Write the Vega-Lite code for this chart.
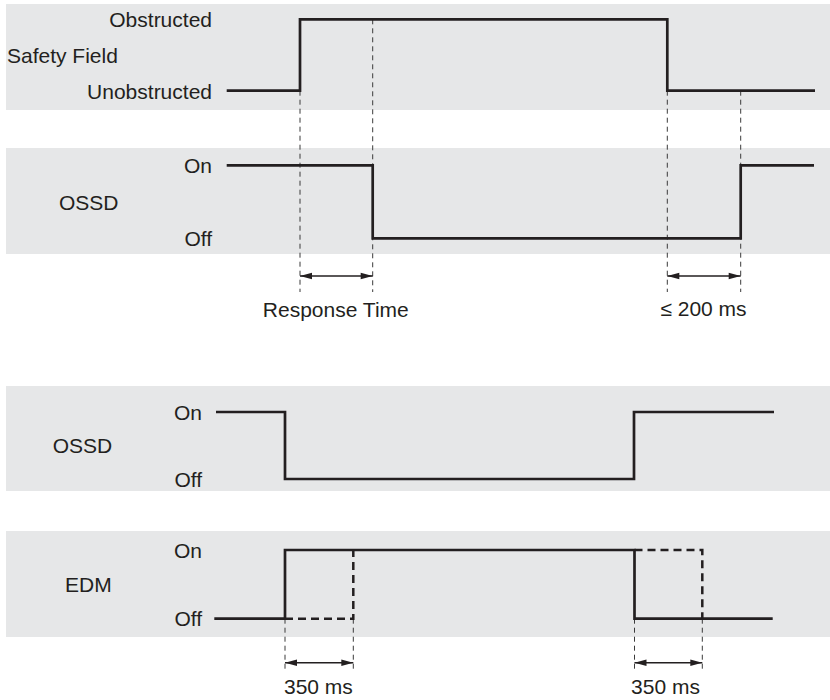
{
  "$schema": "https://vega.github.io/schema/vega-lite/v6.json",
  "width": 830,
  "height": 700,
  "autosize": {"type": "fit", "contains": "padding"},
  "padding": 0,
  "background": "white",
  "config": {"view": {"stroke": null}},
  "datasets": {
    "panels": [
      {"panel": "Safety Field", "t": 6, "t2": 830, "y": 4, "y2": 110},
      {"panel": "OSSD (response)", "t": 6, "t2": 830, "y": 148, "y2": 254},
      {"panel": "OSSD (EDM)", "t": 6, "t2": 830, "y": 386, "y2": 491},
      {"panel": "EDM", "t": 6, "t2": 830, "y": 531, "y2": 637}
    ],
    "signals": [
      {"signal": "Safety Field", "i": 0, "t": 226.7, "y": 90.7},
      {"signal": "Safety Field", "i": 1, "t": 300, "y": 90.7},
      {"signal": "Safety Field", "i": 2, "t": 300, "y": 19.3},
      {"signal": "Safety Field", "i": 3, "t": 667.3, "y": 19.3},
      {"signal": "Safety Field", "i": 4, "t": 667.3, "y": 90.7},
      {"signal": "Safety Field", "i": 5, "t": 815, "y": 90.7},
      {"signal": "OSSD A", "i": 0, "t": 226.7, "y": 165.3},
      {"signal": "OSSD A", "i": 1, "t": 372.7, "y": 165.3},
      {"signal": "OSSD A", "i": 2, "t": 372.7, "y": 238.3},
      {"signal": "OSSD A", "i": 3, "t": 740.7, "y": 238.3},
      {"signal": "OSSD A", "i": 4, "t": 740.7, "y": 165.3},
      {"signal": "OSSD A", "i": 5, "t": 814, "y": 165.3},
      {"signal": "OSSD B", "i": 0, "t": 216, "y": 412},
      {"signal": "OSSD B", "i": 1, "t": 285, "y": 412},
      {"signal": "OSSD B", "i": 2, "t": 285, "y": 479},
      {"signal": "OSSD B", "i": 3, "t": 634, "y": 479},
      {"signal": "OSSD B", "i": 4, "t": 634, "y": 412},
      {"signal": "OSSD B", "i": 5, "t": 774, "y": 412},
      {"signal": "EDM", "i": 0, "t": 214.3, "y": 618.7},
      {"signal": "EDM", "i": 1, "t": 285, "y": 618.7},
      {"signal": "EDM", "i": 2, "t": 285, "y": 550},
      {"signal": "EDM", "i": 3, "t": 634.5, "y": 550},
      {"signal": "EDM", "i": 4, "t": 634.5, "y": 618.7},
      {"signal": "EDM", "i": 5, "t": 772.7, "y": 618.7}
    ],
    "edmDelayed": [
      {"seg": "a", "i": 0, "t": 285, "y": 618.7},
      {"seg": "a", "i": 1, "t": 353.3, "y": 618.7},
      {"seg": "a", "i": 2, "t": 353.3, "y": 550},
      {"seg": "b", "i": 0, "t": 634.5, "y": 550},
      {"seg": "b", "i": 1, "t": 702.3, "y": 550},
      {"seg": "b", "i": 2, "t": 702.3, "y": 618.7}
    ],
    "guides": [
      {"t": 300, "y": 90.7, "y2": 292},
      {"t": 372.7, "y": 19.3, "y2": 292},
      {"t": 667.3, "y": 90.7, "y2": 292},
      {"t": 740.7, "y": 90.7, "y2": 292},
      {"t": 285, "y": 618.7, "y2": 669},
      {"t": 353.3, "y": 618.7, "y2": 669},
      {"t": 634.5, "y": 618.7, "y2": 669},
      {"t": 702.3, "y": 618.7, "y2": 669}
    ],
    "arrows": [
      {"name": "Response Time", "t": 300, "t2": 372.7, "y": 276},
      {"name": "200 ms", "t": 667.3, "t2": 740.7, "y": 276},
      {"name": "350 ms a", "t": 285, "t2": 353.3, "y": 662.7},
      {"name": "350 ms b", "t": 634.5, "t2": 702.3, "y": 662.7}
    ],
    "labels": [
      {"text": "Obstructed", "t": 212, "y": 19.5, "anchor": "end"},
      {"text": "Unobstructed", "t": 212, "y": 91, "anchor": "end"},
      {"text": "On", "t": 212, "y": 165.3, "anchor": "end"},
      {"text": "Off", "t": 212, "y": 238, "anchor": "end"},
      {"text": "On", "t": 202, "y": 412, "anchor": "end"},
      {"text": "Off", "t": 202, "y": 479, "anchor": "end"},
      {"text": "On", "t": 202, "y": 550, "anchor": "end"},
      {"text": "Off", "t": 202, "y": 618, "anchor": "end"},
      {"text": "Safety Field", "t": 7, "y": 55, "anchor": "start"},
      {"text": "OSSD", "t": 59, "y": 202, "anchor": "start"},
      {"text": "OSSD", "t": 52.7, "y": 445, "anchor": "start"},
      {"text": "EDM", "t": 65, "y": 584, "anchor": "start"},
      {"text": "Response Time", "t": 335.8, "y": 309.5, "anchor": "middle"},
      {"text": "≤ 200 ms", "t": 703.5, "y": 308.5, "anchor": "middle"},
      {"text": "350 ms", "t": 318.4, "y": 686, "anchor": "middle"},
      {"text": "350 ms", "t": 665.5, "y": 686, "anchor": "middle"}
    ]
  },
  "encoding": {
    "x": {"field": "t", "type": "quantitative", "scale": {"domain": [0, 830], "nice": false, "zero": false}, "axis": null},
    "y": {"field": "y", "type": "quantitative", "scale": {"domain": [700, 0], "nice": false, "zero": false}, "axis": null}
  },
  "layer": [
    {
      "data": {"name": "panels"},
      "mark": {"type": "rect", "color": "#e6e7e8"},
      "encoding": {
        "x2": {"field": "t2"},
        "y2": {"field": "y2"}
      }
    },
    {
      "data": {"name": "guides"},
      "mark": {"type": "rule", "color": "#3a3a3a", "strokeWidth": 1, "strokeDash": [5, 4]},
      "encoding": {
        "y2": {"field": "y2"}
      }
    },
    {
      "data": {"name": "signals"},
      "mark": {"type": "line", "color": "#231f20", "strokeWidth": 2.7, "strokeJoin": "miter", "strokeCap": "butt"},
      "encoding": {
        "detail": {"field": "signal"},
        "order": {"field": "i", "type": "quantitative"}
      }
    },
    {
      "data": {"name": "edmDelayed"},
      "mark": {"type": "line", "color": "#231f20", "strokeWidth": 2.5, "strokeDash": [8, 5], "strokeJoin": "miter"},
      "encoding": {
        "detail": {"field": "seg"},
        "order": {"field": "i", "type": "quantitative"}
      }
    },
    {
      "data": {"name": "arrows"},
      "mark": {"type": "rule", "color": "#231f20", "strokeWidth": 1.6},
      "encoding": {
        "x2": {"field": "t2"}
      }
    },
    {
      "data": {"name": "arrows"},
      "mark": {"type": "point", "shape": "M0,0L2,-0.55L2,0.55Z", "filled": true, "color": "#231f20", "opacity": 1, "size": 144, "strokeWidth": 0}
    },
    {
      "data": {"name": "arrows"},
      "mark": {"type": "point", "shape": "M0,0L-2,-0.55L-2,0.55Z", "filled": true, "color": "#231f20", "opacity": 1, "size": 144, "strokeWidth": 0},
      "encoding": {
        "x": {"field": "t2", "type": "quantitative"}
      }
    },
    {
      "data": {"name": "labels"},
      "transform": [{"filter": "datum.anchor === 'end'"}],
      "mark": {"type": "text", "align": "right", "baseline": "alphabetic", "dy": 7.5, "font": "Liberation Sans", "fontSize": 21, "color": "#231f20"},
      "encoding": {"text": {"field": "text"}}
    },
    {
      "data": {"name": "labels"},
      "transform": [{"filter": "datum.anchor === 'start'"}],
      "mark": {"type": "text", "align": "left", "baseline": "alphabetic", "dy": 7.5, "font": "Liberation Sans", "fontSize": 21, "color": "#231f20"},
      "encoding": {"text": {"field": "text"}}
    },
    {
      "data": {"name": "labels"},
      "transform": [{"filter": "datum.anchor === 'middle'"}],
      "mark": {"type": "text", "align": "center", "baseline": "alphabetic", "dy": 7.5, "font": "Liberation Sans", "fontSize": 21, "color": "#231f20"},
      "encoding": {"text": {"field": "text"}}
    }
  ]
}
